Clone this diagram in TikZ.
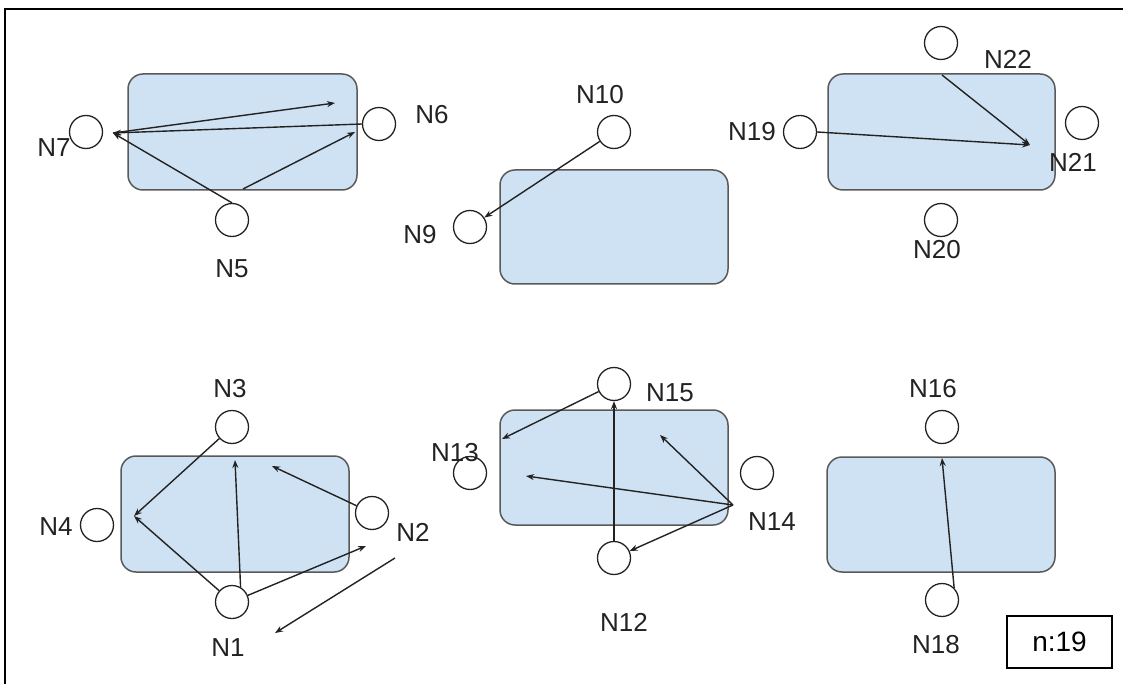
\documentclass[tikz,border=0pt]{standalone}
\usepackage{fontspec}
\setmainfont{Liberation Sans}
\usetikzlibrary{arrows.meta}

\newlength{\du}
\setlength{\du}{1pt}

\definecolor{boxfill}{RGB}{207,226,243}
\definecolor{boxline}{RGB}{89,89,89}
\definecolor{dialinecolor}{RGB}{34,34,34}

\tikzset{
  station/.style={circle, draw=dialinecolor, fill=white, line width=1.3\du, minimum size=33\du, inner sep=0pt},
  tag/.style={text=dialinecolor, font=\fontsize{26}{30}\selectfont, inner sep=0pt},
  zone/.style={draw=boxline, fill=boxfill, line width=1.5\du, rounded corners=15\du},
  link/.style={draw=dialinecolor, line width=1.4\du, -{Stealth[length=8pt,width=6pt]}},
}

\begin{document}
\begin{tikzpicture}
\pgftransformyscale{-1.000000}
\useasboundingbox (0\du,0\du) rectangle (1123\du,684\du);
% frame
\draw[line width=2\du, black] (5\du,684\du) -- (5\du,9\du) -- (1123\du,9\du);
% zones
\draw[zone] (128\du,74\du) rectangle (357\du,190\du);
\draw[zone] (500\du,170\du) rectangle (728\du,284\du);
\draw[zone] (828\du,74\du) rectangle (1055\du,190\du);
\draw[zone] (121\du,456\du) rectangle (349\du,572\du);
\draw[zone] (500\du,410\du) rectangle (728\du,525\du);
\draw[zone] (827\du,457\du) rectangle (1055\du,572\du);
% stations
\node[station] (n7) at (86\du,132\du) {};
\node[station] (n6) at (379\du,124\du) {};
\node[station] (n5) at (232\du,220\du) {};
\node[station] (n10) at (614\du,132\du) {};
\node[station] (n9) at (470\du,227\du) {};
\node[station] (n22) at (941\du,43\du) {};
\node[station] (n19) at (800\du,132\du) {};
\node[station] (n21) at (1082\du,123\du) {};
\node[station] (n20) at (941\du,220\du) {};
\node[station] (n3) at (232\du,427\du) {};
\node[station] (n4) at (97\du,525\du) {};
\node[station] (n2) at (372\du,513\du) {};
\node[station] (n1) at (232\du,602\du) {};
\node[station] (n15) at (614\du,384\du) {};
\node[station] (n13) at (470\du,473\du) {};
\node[station] (n14) at (757\du,473\du) {};
\node[station] (n12) at (614\du,558\du) {};
\node[station] (n16) at (942\du,427\du) {};
\node[station] (n18) at (942\du,600\du) {};
% setfont left to latex
\node[tag] (t7) at (54\du,148\du) {N7};
\node[tag] (t6) at (432\du,115\du) {N6};
\node[tag] (t5) at (232\du,269\du) {N5};
\node[tag] (t10) at (600\du,95\du) {N10};
\node[tag] (t9) at (420\du,235\du) {N9};
\node[tag] (t22) at (1008\du,59\du) {N22};
\node[tag] (t19) at (752\du,132\du) {N19};
\node[tag] (t21) at (1073\du,162\du) {N21};
\node[tag] (t20) at (937\du,250\du) {N20};
\node[tag] (t3) at (230\du,389\du) {N3};
\node[tag] (t4) at (56\du,527\du) {N4};
\node[tag] (t2) at (413\du,532\du) {N2};
\node[tag] (t1) at (228\du,648\du) {N1};
\node[tag] (t15) at (670\du,393\du) {N15};
\node[tag] (t13) at (455\du,453\du) {N13};
\node[tag] (t14) at (772\du,522\du) {N14};
\node[tag] (t12) at (624\du,622\du) {N12};
\node[tag] (t16) at (933\du,389\du) {N16};
\node[tag] (t18) at (936\du,645\du) {N18};
% free ends
\coordinate (p7) at (113\du,133\du);
\coordinate (q7) at (335\du,103\du);
\coordinate (p6) at (355\du,132\du);
\coordinate (s5) at (243\du,189\du);
\coordinate (p21) at (1030\du,145\du);
\coordinate (s22) at (942\du,75\du);
\coordinate (p4) at (134\du,516\du);
\coordinate (p3) at (235\du,460\du);
\coordinate (p2a) at (272\du,466\du);
\coordinate (p2b) at (366\du,546\du);
\coordinate (s0) at (395\du,558\du);
\coordinate (p0) at (275\du,633\du);
\coordinate (p13) at (502\du,439\du);
\coordinate (s14) at (733\du,505\du);
\coordinate (p15) at (660\du,435\du);
\coordinate (p13b) at (526\du,476\du);
\coordinate (p16) at (942\du,458\du);
% links
\draw[link] (n6.west) -- (p7);
\draw[link] (p7) -- (q7);
\draw[link] (n5.north) -- (p7);
\draw[link] (s5) -- (p6);
\draw[link] (n10) -- (n9);
\draw[link] (n19.east) -- (p21);
\draw[link] (s22) -- (p21);
\draw[link] (n3) -- (p4);
\draw[link] (n1) -- (p4);
\draw[link] (n1.60) -- (p3);
\draw[link] (n2) -- (p2a);
\draw[link] (n1) -- (p2b);
\draw[link] (s0) -- (p0);
\draw[link] (n15) -- (p13);
\draw[link] (n12) -- (n15);
\draw[link] (s14) -- (p15);
\draw[link] (s14) -- (p13b);
\draw[link] (s14) -- (n12);
\draw[link] (n18.45) -- (p16);
% counter
\node[draw=black, line width=2\du, minimum width=105\du, minimum height=52\du, inner sep=0pt, font=\fontsize{28}{32}\selectfont] (count) at (1059.5\du,642\du) {n:19};
\end{tikzpicture}
\end{document}
